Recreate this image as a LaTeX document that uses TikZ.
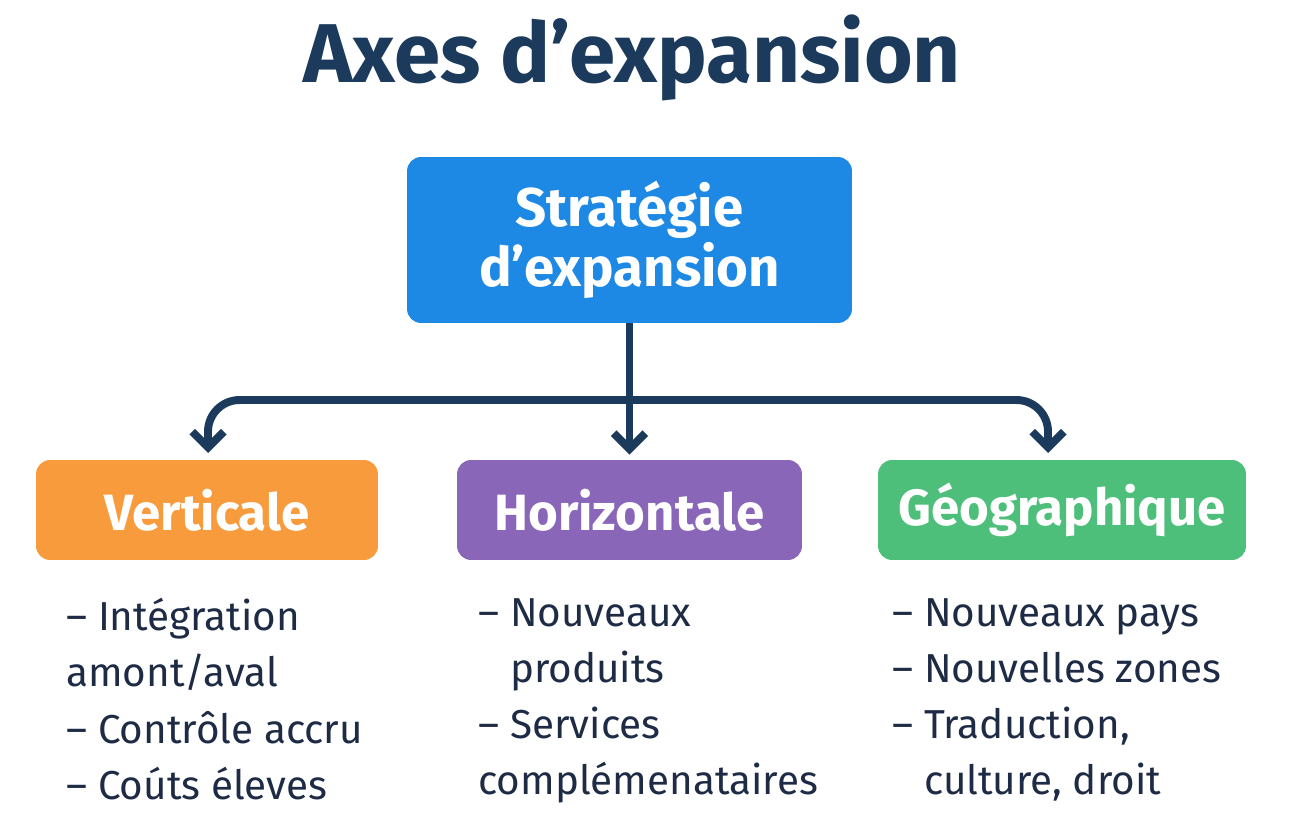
\documentclass[tikz,border=0pt]{standalone}
\usepackage{fontspec}
\setmainfont{Fira Sans}
\usetikzlibrary{arrows.meta, positioning}
\definecolor{navy}{HTML}{1B3A5C}
\definecolor{ink}{HTML}{1E2B45}
\definecolor{topblue}{HTML}{1E88E5}
\definecolor{vorange}{HTML}{F89B3C}
\definecolor{hpurple}{HTML}{8A66B8}
\definecolor{ggreen}{HTML}{4DBF7A}
\tikzset{
  headbox/.style={rounded corners=8pt, text=white, font=\fontsize{29}{34}\selectfont\bfseries, inner sep=0pt},
  itemlist/.style={anchor=north west, align=left, text=ink, inner sep=0pt, font=\fontsize{23}{32}\selectfont},
  link/.style={navy, line width=4.5pt, -{Straight Barb[length=9pt, width=18pt, line width=4.5pt]}, rounded corners=18pt}
}
\begin{document}
\begin{tikzpicture}[x=0.02cm, y=-0.02cm]
		\useasboundingbox (0,0) rectangle (1290,837);
		% Title
		\node[text=navy, font=\fontsize{47.5}{56}\selectfont\bfseries] (title) at (632,58) {Axes d’expansion};
		
		% Boxes
		\node[headbox, fill=topblue, minimum width=8.9cm, minimum height=3.32cm, align=center, font=\fontsize{31}{34}\selectfont\bfseries] (strat) at (629.5,240) {Stratégie\\d’expansion};
		\node[headbox, fill=vorange, minimum width=6.84cm, minimum height=2cm] (vert) at (207,510) {Verticale};
		\node[headbox, fill=hpurple, minimum width=6.9cm, minimum height=2cm] (hori) at (629.5,510) {Horizontale};
		\node[headbox, fill=ggreen, minimum width=7.36cm, minimum height=2cm] (geo) at (1062,510) {Géographique};
		
		% Connectors
		\coordinate (split) at (630,400);
		\draw[link] (strat.south) -- ([yshift=0.1cm]hori.north -| strat.south);
		\draw[link] (split) -- (208,400) -- (208,453);
		\draw[link] (split) -- (1048,400) -- (1048,453);
		
		% Lists
		\node[itemlist] (vlist) at (66,598) {– Intégration\\amont/aval\\– Contrôle accru\\– Coúts éleves};
		\node[itemlist] (hlist) at (478,598) {– Nouveaux\\\hphantom{– }produits\\– Services\\complémenataires};
		\node[itemlist] (glist) at (892,598) {– Nouveaux pays\\– Nouvelles zones\\– Traduction,\\\hphantom{– }culture, droit};
\end{tikzpicture}
\end{document}
